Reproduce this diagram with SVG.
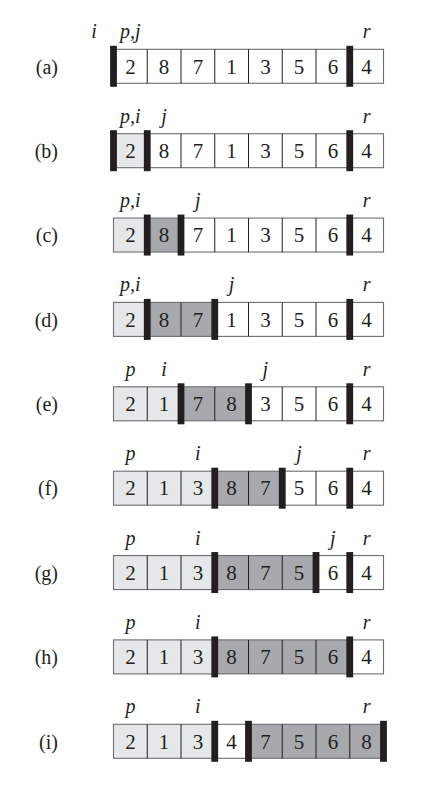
<svg xmlns="http://www.w3.org/2000/svg" width="443" height="796" viewBox="0 0 443 796">
<style>
.w{fill:#ffffff}
.l{fill:#e6e7e8}
.d{fill:#a7a9ac}
.o{fill:none;stroke:#6d6e71;stroke-width:1.1}
.v{fill:none;stroke:#231f20;stroke-width:1}
.b{fill:#231f20}
.n{font-family:"Liberation Serif",serif;font-size:21px;fill:#231f20;text-anchor:middle}
.t{font-family:"Liberation Serif",serif;font-size:20px;font-style:italic;fill:#231f20;text-anchor:middle}
.r{font-family:"Liberation Serif",serif;font-size:20px;fill:#231f20;text-anchor:end}
</style>
<rect width="443" height="796" fill="#ffffff"/>
<g id="row-a">
<text class="r" x="58" y="73.5">(a)</text>
<rect class="w" x="113.5" y="49.3" width="270" height="34"/>
<rect class="o" x="113.5" y="49.3" width="270" height="34"/>
<path class="v" d="M147.25,49.3v34M181,49.3v34M214.75,49.3v34M248.5,49.3v34M282.25,49.3v34M316,49.3v34M349.75,49.3v34"/>
<text class="n" x="130.4" y="73.5">2</text><text class="n" x="164.1" y="73.5">8</text><text class="n" x="197.9" y="73.5">7</text><text class="n" x="231.6" y="73.5">1</text><text class="n" x="265.4" y="73.5">3</text><text class="n" x="299.1" y="73.5">5</text><text class="n" x="332.9" y="73.5">6</text><text class="n" x="366.6" y="73.5">4</text>
<rect class="b" x="110.1" y="45.8" width="6.8" height="41"/><rect class="b" x="346.35" y="45.8" width="6.8" height="41"/>
<text class="t" x="94" y="38.3">i</text><text class="t" x="130.4" y="38.3">p,j</text><text class="t" x="366.6" y="38.3">r</text>
</g>
<g id="row-b">
<text class="r" x="58" y="157.9">(b)</text>
<rect class="w" x="113.5" y="133.7" width="270" height="34"/>
<rect class="l" x="113.5" y="133.7" width="33.75" height="34"/>
<rect class="o" x="113.5" y="133.7" width="270" height="34"/>
<path class="v" d="M147.25,133.7v34M181,133.7v34M214.75,133.7v34M248.5,133.7v34M282.25,133.7v34M316,133.7v34M349.75,133.7v34"/>
<text class="n" x="130.4" y="157.9">2</text><text class="n" x="164.1" y="157.9">8</text><text class="n" x="197.9" y="157.9">7</text><text class="n" x="231.6" y="157.9">1</text><text class="n" x="265.4" y="157.9">3</text><text class="n" x="299.1" y="157.9">5</text><text class="n" x="332.9" y="157.9">6</text><text class="n" x="366.6" y="157.9">4</text>
<rect class="b" x="110.1" y="130.2" width="6.8" height="41"/><rect class="b" x="143.85" y="130.2" width="6.8" height="41"/><rect class="b" x="346.35" y="130.2" width="6.8" height="41"/>
<text class="t" x="130.4" y="122.7">p,i</text><text class="t" x="164.1" y="122.7">j</text><text class="t" x="366.6" y="122.7">r</text>
</g>
<g id="row-c">
<text class="r" x="58" y="242.25">(c)</text>
<rect class="w" x="113.5" y="218.05" width="270" height="34"/>
<rect class="l" x="113.5" y="218.05" width="33.75" height="34"/>
<rect class="d" x="147.25" y="218.05" width="33.75" height="34"/>
<rect class="o" x="113.5" y="218.05" width="270" height="34"/>
<path class="v" d="M147.25,218.05v34M181,218.05v34M214.75,218.05v34M248.5,218.05v34M282.25,218.05v34M316,218.05v34M349.75,218.05v34"/>
<text class="n" x="130.4" y="242.25">2</text><text class="n" x="164.1" y="242.25">8</text><text class="n" x="197.9" y="242.25">7</text><text class="n" x="231.6" y="242.25">1</text><text class="n" x="265.4" y="242.25">3</text><text class="n" x="299.1" y="242.25">5</text><text class="n" x="332.9" y="242.25">6</text><text class="n" x="366.6" y="242.25">4</text>
<rect class="b" x="143.85" y="214.55" width="6.8" height="41"/><rect class="b" x="177.6" y="214.55" width="6.8" height="41"/><rect class="b" x="346.35" y="214.55" width="6.8" height="41"/>
<text class="t" x="130.4" y="207.05">p,i</text><text class="t" x="197.9" y="207.05">j</text><text class="t" x="366.6" y="207.05">r</text>
</g>
<g id="row-d">
<text class="r" x="58" y="326.6">(d)</text>
<rect class="w" x="113.5" y="302.4" width="270" height="34"/>
<rect class="l" x="113.5" y="302.4" width="33.75" height="34"/>
<rect class="d" x="147.25" y="302.4" width="67.5" height="34"/>
<rect class="o" x="113.5" y="302.4" width="270" height="34"/>
<path class="v" d="M147.25,302.4v34M181,302.4v34M214.75,302.4v34M248.5,302.4v34M282.25,302.4v34M316,302.4v34M349.75,302.4v34"/>
<text class="n" x="130.4" y="326.6">2</text><text class="n" x="164.1" y="326.6">8</text><text class="n" x="197.9" y="326.6">7</text><text class="n" x="231.6" y="326.6">1</text><text class="n" x="265.4" y="326.6">3</text><text class="n" x="299.1" y="326.6">5</text><text class="n" x="332.9" y="326.6">6</text><text class="n" x="366.6" y="326.6">4</text>
<rect class="b" x="143.85" y="298.9" width="6.8" height="41"/><rect class="b" x="211.35" y="298.9" width="6.8" height="41"/><rect class="b" x="346.35" y="298.9" width="6.8" height="41"/>
<text class="t" x="130.4" y="291.4">p,i</text><text class="t" x="231.6" y="291.4">j</text><text class="t" x="366.6" y="291.4">r</text>
</g>
<g id="row-e">
<text class="r" x="58" y="411">(e)</text>
<rect class="w" x="113.5" y="386.8" width="270" height="34"/>
<rect class="l" x="113.5" y="386.8" width="67.5" height="34"/>
<rect class="d" x="181" y="386.8" width="67.5" height="34"/>
<rect class="o" x="113.5" y="386.8" width="270" height="34"/>
<path class="v" d="M147.25,386.8v34M181,386.8v34M214.75,386.8v34M248.5,386.8v34M282.25,386.8v34M316,386.8v34M349.75,386.8v34"/>
<text class="n" x="130.4" y="411">2</text><text class="n" x="164.1" y="411">1</text><text class="n" x="197.9" y="411">7</text><text class="n" x="231.6" y="411">8</text><text class="n" x="265.4" y="411">3</text><text class="n" x="299.1" y="411">5</text><text class="n" x="332.9" y="411">6</text><text class="n" x="366.6" y="411">4</text>
<rect class="b" x="177.6" y="383.3" width="6.8" height="41"/><rect class="b" x="245.1" y="383.3" width="6.8" height="41"/><rect class="b" x="346.35" y="383.3" width="6.8" height="41"/>
<text class="t" x="130.4" y="375.8">p</text><text class="t" x="164.1" y="375.8">i</text><text class="t" x="265.4" y="375.8">j</text><text class="t" x="366.6" y="375.8">r</text>
</g>
<g id="row-f">
<text class="r" x="58" y="495.4">(f)</text>
<rect class="w" x="113.5" y="471.2" width="270" height="34"/>
<rect class="l" x="113.5" y="471.2" width="101.25" height="34"/>
<rect class="d" x="214.75" y="471.2" width="67.5" height="34"/>
<rect class="o" x="113.5" y="471.2" width="270" height="34"/>
<path class="v" d="M147.25,471.2v34M181,471.2v34M214.75,471.2v34M248.5,471.2v34M282.25,471.2v34M316,471.2v34M349.75,471.2v34"/>
<text class="n" x="130.4" y="495.4">2</text><text class="n" x="164.1" y="495.4">1</text><text class="n" x="197.9" y="495.4">3</text><text class="n" x="231.6" y="495.4">8</text><text class="n" x="265.4" y="495.4">7</text><text class="n" x="299.1" y="495.4">5</text><text class="n" x="332.9" y="495.4">6</text><text class="n" x="366.6" y="495.4">4</text>
<rect class="b" x="211.35" y="467.7" width="6.8" height="41"/><rect class="b" x="278.85" y="467.7" width="6.8" height="41"/><rect class="b" x="346.35" y="467.7" width="6.8" height="41"/>
<text class="t" x="130.4" y="460.2">p</text><text class="t" x="197.9" y="460.2">i</text><text class="t" x="299.1" y="460.2">j</text><text class="t" x="366.6" y="460.2">r</text>
</g>
<g id="row-g">
<text class="r" x="58" y="579.75">(g)</text>
<rect class="w" x="113.5" y="555.55" width="270" height="34"/>
<rect class="l" x="113.5" y="555.55" width="101.25" height="34"/>
<rect class="d" x="214.75" y="555.55" width="101.25" height="34"/>
<rect class="o" x="113.5" y="555.55" width="270" height="34"/>
<path class="v" d="M147.25,555.55v34M181,555.55v34M214.75,555.55v34M248.5,555.55v34M282.25,555.55v34M316,555.55v34M349.75,555.55v34"/>
<text class="n" x="130.4" y="579.75">2</text><text class="n" x="164.1" y="579.75">1</text><text class="n" x="197.9" y="579.75">3</text><text class="n" x="231.6" y="579.75">8</text><text class="n" x="265.4" y="579.75">7</text><text class="n" x="299.1" y="579.75">5</text><text class="n" x="332.9" y="579.75">6</text><text class="n" x="366.6" y="579.75">4</text>
<rect class="b" x="211.35" y="552.05" width="6.8" height="41"/><rect class="b" x="312.6" y="552.05" width="6.8" height="41"/><rect class="b" x="346.35" y="552.05" width="6.8" height="41"/>
<text class="t" x="130.4" y="544.55">p</text><text class="t" x="197.9" y="544.55">i</text><text class="t" x="332.9" y="544.55">j</text><text class="t" x="366.6" y="544.55">r</text>
</g>
<g id="row-h">
<text class="r" x="58" y="664.1">(h)</text>
<rect class="w" x="113.5" y="639.9" width="270" height="34"/>
<rect class="l" x="113.5" y="639.9" width="101.25" height="34"/>
<rect class="d" x="214.75" y="639.9" width="135" height="34"/>
<rect class="o" x="113.5" y="639.9" width="270" height="34"/>
<path class="v" d="M147.25,639.9v34M181,639.9v34M214.75,639.9v34M248.5,639.9v34M282.25,639.9v34M316,639.9v34M349.75,639.9v34"/>
<text class="n" x="130.4" y="664.1">2</text><text class="n" x="164.1" y="664.1">1</text><text class="n" x="197.9" y="664.1">3</text><text class="n" x="231.6" y="664.1">8</text><text class="n" x="265.4" y="664.1">7</text><text class="n" x="299.1" y="664.1">5</text><text class="n" x="332.9" y="664.1">6</text><text class="n" x="366.6" y="664.1">4</text>
<rect class="b" x="211.35" y="636.4" width="6.8" height="41"/><rect class="b" x="346.35" y="636.4" width="6.8" height="41"/>
<text class="t" x="130.4" y="628.9">p</text><text class="t" x="197.9" y="628.9">i</text><text class="t" x="366.6" y="628.9">r</text>
</g>
<g id="row-i">
<text class="r" x="58" y="748.5">(i)</text>
<rect class="w" x="113.5" y="724.3" width="270" height="34"/>
<rect class="l" x="113.5" y="724.3" width="101.25" height="34"/>
<rect class="d" x="248.5" y="724.3" width="135" height="34"/>
<rect class="o" x="113.5" y="724.3" width="270" height="34"/>
<path class="v" d="M147.25,724.3v34M181,724.3v34M214.75,724.3v34M248.5,724.3v34M282.25,724.3v34M316,724.3v34M349.75,724.3v34"/>
<text class="n" x="130.4" y="748.5">2</text><text class="n" x="164.1" y="748.5">1</text><text class="n" x="197.9" y="748.5">3</text><text class="n" x="231.6" y="748.5">4</text><text class="n" x="265.4" y="748.5">7</text><text class="n" x="299.1" y="748.5">5</text><text class="n" x="332.9" y="748.5">6</text><text class="n" x="366.6" y="748.5">8</text>
<rect class="b" x="211.35" y="720.8" width="6.8" height="41"/><rect class="b" x="245.1" y="720.8" width="6.8" height="41"/><rect class="b" x="380.1" y="720.8" width="6.8" height="41"/>
<text class="t" x="130.4" y="713.3">p</text><text class="t" x="197.9" y="713.3">i</text><text class="t" x="366.6" y="713.3">r</text>
</g>
<g id="connectors"/>
</svg>
